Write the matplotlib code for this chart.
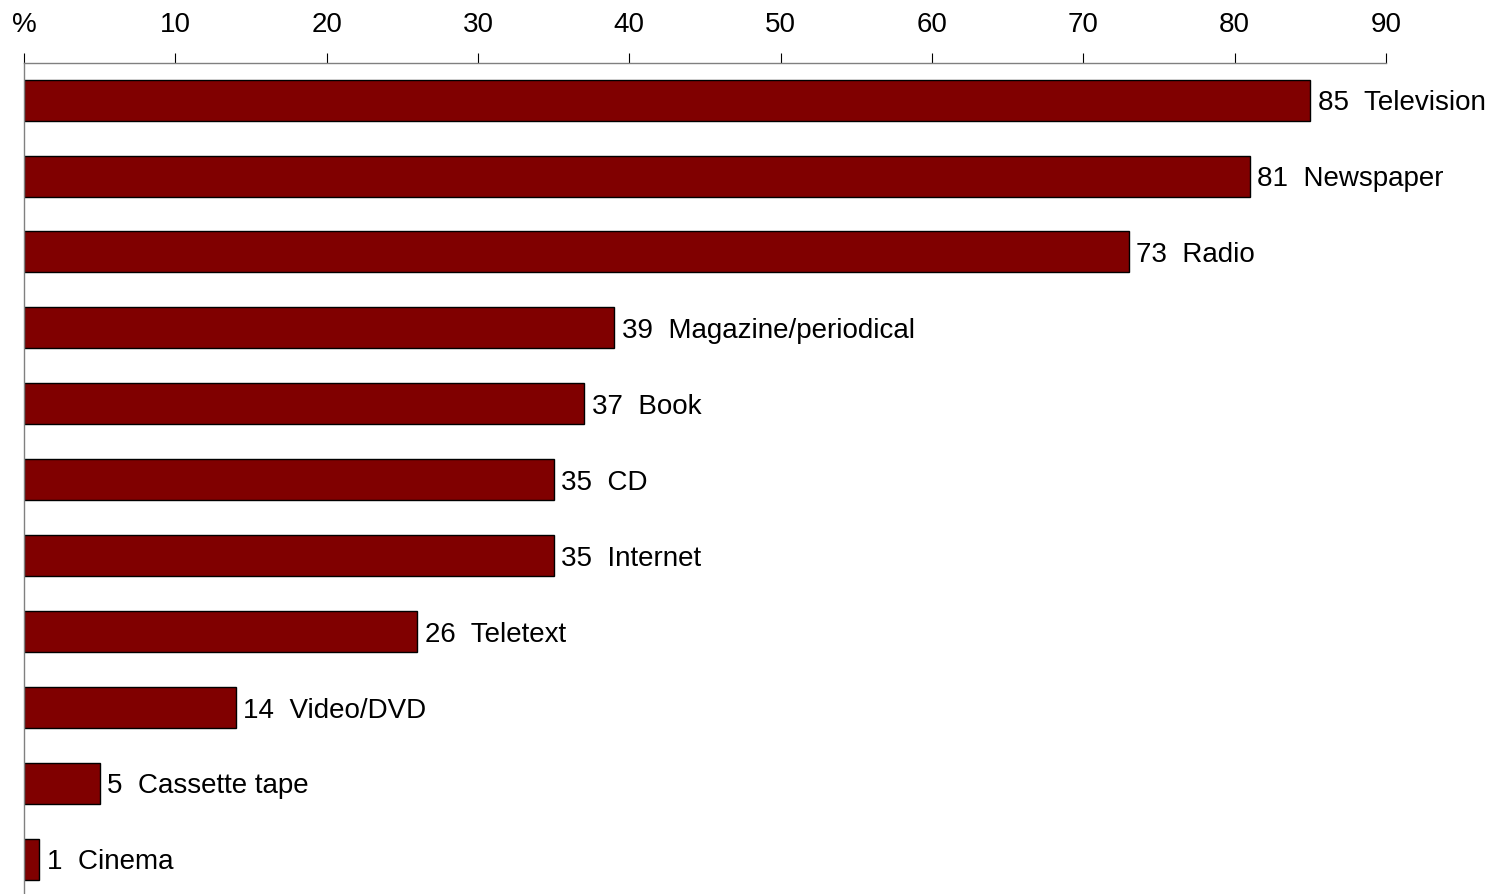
import matplotlib
matplotlib.use('Agg')
import matplotlib.pyplot as plt

plt.rcParams['font.family'] = ['Liberation Sans', 'DejaVu Sans']

# Media used, share of population (%)
media = ['Television', 'Newspaper', 'Radio', 'Magazine/periodical', 'Book',
         'CD', 'Internet', 'Teletext', 'Video/DVD', 'Cassette tape', 'Cinema']
shares = [85, 81, 73, 39, 37, 35, 35, 26, 14, 5, 1]
tick_values = [0, 10, 20, 30, 40, 50, 60, 70, 80, 90]
tick_labels = ['%', '10', '20', '30', '40', '50', '60', '70', '80', '90']

fig = plt.figure(figsize=(15.04, 8.95), dpi=100)
ax = fig.add_axes([24 / 1504, 0, (1386 - 24) / 1504, 1 - 64 / 895])

pos = list(range(len(media)))
ax.barh(pos, shares, height=0.54, color='#800000', edgecolor='black', linewidth=1)

for p, v, name in zip(pos, shares, media):
    ax.text(v + 0.5, p + 0.03, f'{v}  {name}', va='center', ha='left',
            fontsize=20, color='black', clip_on=False)

ax.set_xlim(0, 90)
ax.set_ylim(10.46, -0.49)

ax.xaxis.tick_top()
ax.set_xticks(tick_values)
ax.set_xticklabels(tick_labels, fontsize=20)
ax.tick_params(axis='x', direction='out', length=7, width=0.8, color='black', pad=11.5)
ax.set_yticks([])

for side in ['right', 'bottom']:
    ax.spines[side].set_visible(False)
for side in ['top', 'left']:
    ax.spines[side].set_color('#808080')
    ax.spines[side].set_linewidth(1)

fig.savefig('out.png', dpi=100)
